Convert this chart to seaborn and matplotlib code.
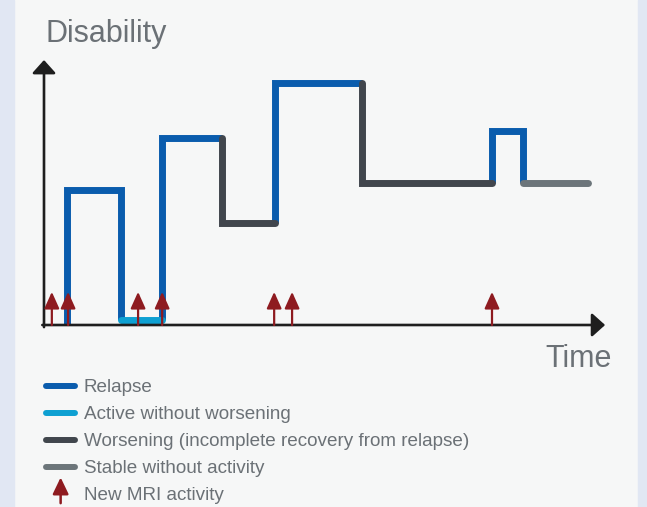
import numpy as np
import pandas as pd
import seaborn as sns
import matplotlib.pyplot as plt
from matplotlib.lines import Line2D
from matplotlib.patches import FancyArrowPatch, Rectangle
from matplotlib.legend_handler import HandlerBase

# --- data (time 0-100, disability 0-100, arbitrary units) ---
relapse_1_t = [4.1, 4.1, 13.75, 13.75]
relapse_1_d = [0, 51, 51, 2]
active_t = [13.75, 21.1]
active_d = [2, 2]
relapse_2_t = [21.1, 21.1, 31.8]
relapse_2_d = [2, 70.6, 70.6]
worsen_1_t = [31.8, 31.8, 41.25]
worsen_1_d = [70.6, 38.5, 38.5]
relapse_3_t = [41.25, 41.25, 56.8]
relapse_3_d = [38.5, 91.3, 91.3]
worsen_2_t = [56.8, 56.8, 80.0]
worsen_2_d = [91.3, 53.6, 53.6]
relapse_4_t = [80.0, 80.0, 85.5, 85.5]
relapse_4_d = [53.6, 73.2, 73.2, 53.6]
stable_t = [85.5, 97.1]
stable_d = [53.6, 53.6]

mri_times = [1.4, 4.3, 16.8, 21.1, 41.1, 44.3, 80.0]
mri_height = 12.5

legend_labels = ["Relapse", "Active without worsening",
                 "Worsening (incomplete recovery from relapse)",
                 "Stable without activity", "New MRI activity"]

BLUE = "#0a5cad"
LIGHT_BLUE = "#0ea0d2"
DARK = "#41464d"
STABLE = "#6c757a"
RED = "#8e1b20"
TEXT = "#6b7176"

sns.set_theme(style="white")
plt.rcParams['font.family'] = ['Liberation Sans', 'DejaVu Sans']

W, H = 647, 507
fig = plt.figure(figsize=(W / 100, H / 100), dpi=100)
fig.patch.set_facecolor("#f6f7f7")
fig.patches.append(Rectangle((0, 0), 14 / W, 1, transform=fig.transFigure,
                             color="#e1e7f3", zorder=0))
fig.patches.append(Rectangle((638 / W, 0), 9 / W, 1, transform=fig.transFigure,
                             color="#e1e7f3", zorder=0))

# axes: data (0,0) -> px (44,325), (100,100) -> px (604,60)
ax = fig.add_axes([44 / W, (H - 325) / H, 560 / W, 265 / H])
ax.set_xlim(0, 100)
ax.set_ylim(0, 100)
ax.set_axis_off()

lw = 5.0
segments = [
    (relapse_1_t, relapse_1_d, BLUE, 3, "butt"),
    (relapse_2_t, relapse_2_d, BLUE, 3, "butt"),
    (relapse_3_t, relapse_3_d, BLUE, 3, "butt"),
    (relapse_4_t, relapse_4_d, BLUE, 3, "butt"),
    (active_t, active_d, LIGHT_BLUE, 4, "round"),
    (worsen_1_t, worsen_1_d, DARK, 4, "round"),
    (worsen_2_t, worsen_2_d, DARK, 4, "round"),
    (stable_t, stable_d, STABLE, 4, "round"),
]
for t, d, c, z, cap in segments:
    sns.lineplot(x=t, y=d, sort=False, estimator=None, color=c, lw=lw, ax=ax,
                 zorder=z, clip_on=False, solid_capstyle=cap, solid_joinstyle="miter")

# axes arrows
axis_style = "-|>,head_length=0.8,head_width=0.72"
ax.annotate("", xy=(0, 100), xytext=(0, -0.8), zorder=2, annotation_clip=False,
            arrowprops=dict(arrowstyle=axis_style, lw=1.9, color="#1e1e1e",
                            mutation_scale=10, shrinkA=0, shrinkB=0))
ax.annotate("", xy=(100.2, 0), xytext=(-0.3, 0), zorder=5, annotation_clip=False,
            arrowprops=dict(arrowstyle=axis_style, lw=1.9, color="#1e1e1e",
                            mutation_scale=10, shrinkA=0, shrinkB=0))

# MRI arrows
for t in mri_times:
    ax.annotate("", xy=(t, mri_height), xytext=(t, 0), zorder=6,
                annotation_clip=False,
                arrowprops=dict(arrowstyle="-|>,head_length=1.0,head_width=0.45",
                                lw=1.6, color=RED, mutation_scale=10,
                                shrinkA=0, shrinkB=0))

fig.text(45 / W, 1 - 34 / H, "Disability", fontsize=22, color=TEXT,
         ha="left", va="center")
fig.text(612 / W, 1 - 359 / H, "Time", fontsize=22, color=TEXT,
         ha="right", va="center")


class ArrowHandler(HandlerBase):
    def create_artists(self, legend, orig_handle, xdescent, ydescent,
                       width, height, fontsize, trans):
        cx = -xdescent + width / 2
        y0 = -ydescent - 2
        y1 = -ydescent + height + 7
        arr = FancyArrowPatch((cx, y0), (cx, y1),
                              arrowstyle="-|>,head_length=1.0,head_width=0.48",
                              mutation_scale=10, lw=1.8, color=RED,
                              shrinkA=0, shrinkB=0, transform=trans)
        return [arr]


arrow_handle = object()
handles = [
    Line2D([], [], color=BLUE, lw=4.3, solid_capstyle="round"),
    Line2D([], [], color=LIGHT_BLUE, lw=4.3, solid_capstyle="round"),
    Line2D([], [], color=DARK, lw=4.3, solid_capstyle="round"),
    Line2D([], [], color=STABLE, lw=4.3, solid_capstyle="round"),
    arrow_handle,
]
leg = fig.legend(handles, legend_labels, loc="upper left",
                 bbox_to_anchor=(46 / W, 1 - 379 / H), frameon=False,
                 fontsize=13.6, handlelength=1.55, handletextpad=0.45,
                 labelspacing=0.52, borderpad=0, borderaxespad=0,
                 handler_map={arrow_handle: ArrowHandler()})
for txt in leg.get_texts():
    txt.set_color(TEXT)

fig.savefig("out.png", dpi=100, facecolor=fig.get_facecolor())
